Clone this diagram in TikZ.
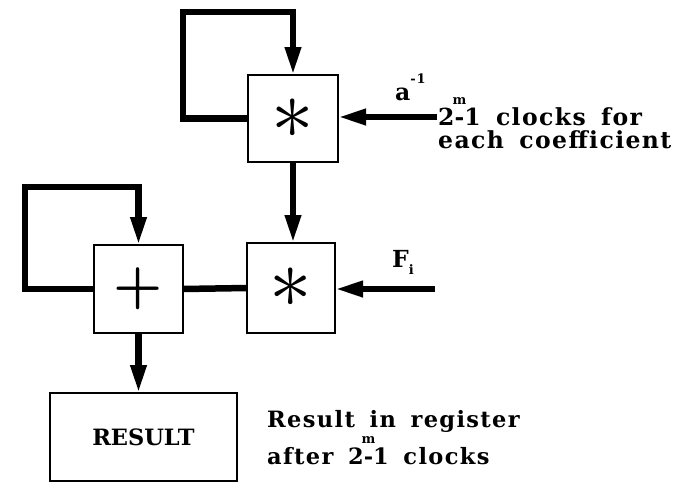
\documentclass[tikz,border=0pt]{standalone}
\usepackage{fontspec}
\usepackage{graphicx}
\usetikzlibrary{arrows.meta}
\newfontfamily\serb{DejaVu Serif}[LetterSpace=6,WordSpace=1.6]
\newfontfamily\serbplain{DejaVu Serif}
\newcommand{\supfont}{\fontsize{13}{13}\selectfont\serb\bfseries}
\newsavebox\supbox
\newcommand{\supover}[2]{\sbox\supbox{#1}\makebox[0pt][l]{\makebox[\wd\supbox]{\raisebox{21pt}{\supfont #2}}}\usebox\supbox}
\tikzset{
  blk/.style={draw, line width=1.6pt, inner sep=0pt, outer sep=0pt},
  conn/.style={line width=6.5pt},
  arr/.style={conn, -{Triangle[length=28pt,width=15pt]}},
  labU/.style={inner sep=0pt, anchor=base west, font=\fontsize{23.5}{23.5}\selectfont\serb\bfseries},
  labL/.style={inner sep=0pt, anchor=base west, font=\fontsize{22.5}{22.5}\selectfont\serb\bfseries},
}
\begin{document}
\begin{tikzpicture}[x=1pt,y=-1pt]
\useasboundingbox (0,0) rectangle (675,483);
% blocks
\node[blk, minimum width=90pt, minimum height=87pt] (m1) at (293,118.5) {\scalebox{8.5}{$\ast$}};
\node[blk, minimum width=88pt, minimum height=90pt] (m2) at (291,288) {\scalebox{8.5}{$\ast$}};
\node[blk, minimum width=89pt, minimum height=88pt] (add) at (138.5,289) {\scalebox{5.5}{\boldmath$+$}};
\node[blk, minimum width=187pt, minimum height=88pt, font=\fontsize{22.5}{22.5}\selectfont\serbplain\bfseries] (res) at (143.5,437) {RESULT};
% free ends
\coordinate (l1a) at (183,12);
\coordinate (l2a) at (25,187);
\coordinate (ain) at (437,117);
\coordinate (fin) at (435,289);
% connectors
\draw[arr] (m1.west) -| (l1a) -| (m1.north);
\draw[arr] (add.west) -| (l2a) -| (add.north);
\draw[arr] (m1.south) -- (m1.south |- m2.north);
\draw[conn] (add.east) -- (m2.west);
\draw[arr] (ain) -- (ain -| m1.east);
\draw[arr] (fin) -- (fin -| m2.east);
\draw[arr] (add.south) -- (add.south |- res.north);
% labels
\node[labU] (alab) at (395,100) {a\raisebox{17pt}{\supfont -1}};
\node[labU] (flab) at (392,267) {F\raisebox{-7pt}{\supfont i}};
\node[labU] (t1) at (438,125) {2\supover{-}{m}1 clocks for};
\node[labU] (t2) at (438,148) {each coefficient};
\node[labL] (t3) at (267,427) {Result in register};
\node[labL] (t4) at (267,464) {after 2\supover{-}{m}1 clocks};
\end{tikzpicture}
\end{document}
